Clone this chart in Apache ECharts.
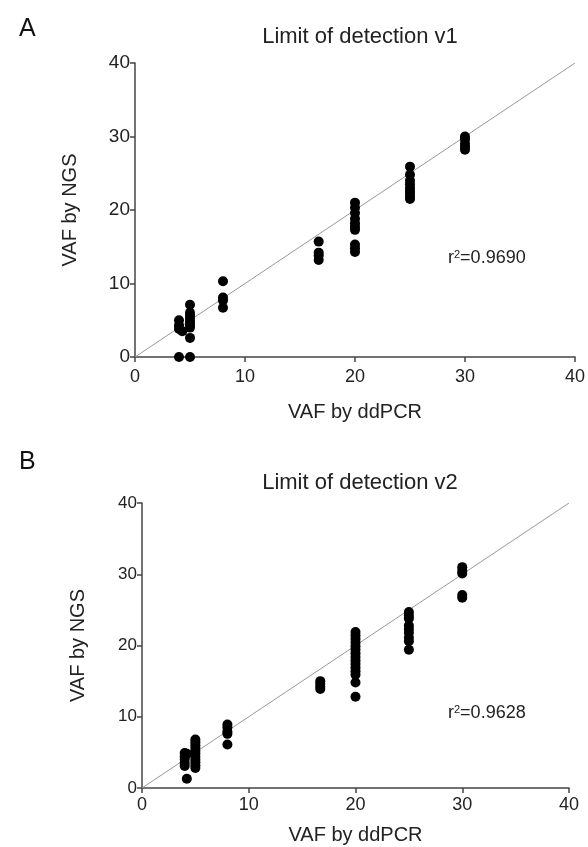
<!DOCTYPE html>
<html>
<head>
<meta charset="utf-8">
<script src="https://cdn.jsdelivr.net/npm/echarts@6/dist/echarts.min.js"></script>
<style>
html,body{margin:0;padding:0;background:#fff;}
#chart{width:588px;height:847px;}
</style>
</head>
<body>
<div id="chart"></div>
<script>
// ---- Data ----
var axisTicks = [0, 10, 20, 30, 40];
var identityLine = [[0, 0], [40, 40]];

// Panel A: Limit of detection v1
var v1Ddpcr = [4, 4, 4, 4.3, 4,
  5, 5, 5, 5, 5, 5, 5, 5, 5,
  8, 8, 8, 8,
  16.7, 16.7, 16.7, 16.7,
  20, 20, 20, 20, 20, 20, 20, 20, 20, 20,
  25, 25, 25, 25, 25, 25, 25, 25, 25,
  30, 30, 30, 30, 30];
var v1Ngs = [5.0, 4.3, 3.8, 3.5, 0,
  7.1, 6.0, 5.6, 5.2, 4.8, 4.4, 4.0, 2.6, 0,
  10.3, 8.1, 7.7, 6.7,
  15.7, 14.2, 13.8, 13.2,
  21.0, 20.3, 19.6, 18.8, 18.2, 17.7, 17.3, 15.3, 14.8, 14.3,
  25.9, 24.8, 24.0, 23.5, 23.0, 22.6, 22.2, 21.8, 21.5,
  30.0, 29.6, 29.0, 28.6, 28.2];

// Panel B: Limit of detection v2
var v2Ddpcr = [4, 4, 4, 4, 4, 4.2, 4.2,
  5, 5, 5, 5, 5, 5, 5, 5, 5, 5, 5,
  8, 8, 8, 8, 8,
  16.7, 16.7, 16.7, 16.7,
  20, 20, 20, 20, 20, 20, 20, 20, 20, 20, 20, 20, 20, 20, 20,
  25, 25, 25, 25, 25, 25, 25, 25, 25,
  30, 30, 30, 30, 30];
var v2Ngs = [4.9, 4.4, 4.0, 3.5, 3.1, 4.8, 1.3,
  6.8, 6.4, 6.0, 5.6, 5.2, 4.8, 4.4, 4.0, 3.6, 3.2, 2.8,
  8.9, 8.5, 7.9, 7.6, 6.1,
  15.0, 14.6, 14.2, 13.9,
  21.9, 21.4, 20.9, 20.4, 19.9, 19.4, 18.9, 18.4, 17.9, 17.4, 16.9, 16.4, 15.9, 14.8, 12.8,
  24.7, 24.2, 23.8, 22.8, 22.3, 21.8, 21.1, 20.6, 19.4,
  31.0, 30.5, 30.1, 27.1, 26.7];

var titles = ['Limit of detection v1', 'Limit of detection v2'];
var r2Values = ['0.9690', '0.9628'];
var panelLetters = ['A', 'B'];

function zip(a, b) { return a.map(function (v, i) { return [v, b[i]]; }); }

var FONT = '"Liberation Sans", Arial, sans-serif';
var TXT = '#222';
var AXC = '#444';

function xAxisCfg(idx, gap, fs, margin) {
  return {
    gridIndex: idx, type: 'value', min: axisTicks[0], max: axisTicks[axisTicks.length - 1], interval: 10,
    name: 'VAF by ddPCR', nameLocation: 'middle', nameGap: gap,
    nameTextStyle: { fontFamily: FONT, fontSize: 20, color: TXT },
    axisLine: { show: true, onZero: false, lineStyle: { color: AXC, width: 1.5 } },
    axisTick: { show: true, inside: false, length: 5, lineStyle: { color: AXC, width: 1.5 } },
    axisLabel: { fontFamily: FONT, fontSize: fs, color: TXT, margin: margin },
    splitLine: { show: false }
  };
}
function yAxisCfg(idx, gap, fs) {
  return {
    gridIndex: idx, type: 'value', min: axisTicks[0], max: axisTicks[axisTicks.length - 1], interval: 10,
    name: 'VAF by NGS', nameLocation: 'middle', nameGap: gap,
    nameTextStyle: { fontFamily: FONT, fontSize: 20, color: TXT },
    axisLine: { show: true, onZero: false, lineStyle: { color: AXC, width: 1.5 } },
    axisTick: { show: true, inside: false, length: 5, lineStyle: { color: AXC, width: 1.5 } },
    axisLabel: { fontFamily: FONT, fontSize: fs, color: TXT, margin: 5 },
    splitLine: { show: false }
  };
}

var chart = echarts.init(document.getElementById('chart'), null, { renderer: 'canvas' });
var option = {
  backgroundColor: '#fff',
  animation: false,
  title: [
    { text: titles[0], left: 355, top: 21, textAlign: 'center',
      textStyle: { fontFamily: FONT, fontSize: 22, fontWeight: 'normal', color: TXT } },
    { text: titles[1], left: 355, top: 467, textAlign: 'center',
      textStyle: { fontFamily: FONT, fontSize: 22, fontWeight: 'normal', color: TXT } },
    { text: panelLetters[0], left: 14, top: 12,
      textStyle: { fontFamily: FONT, fontSize: 25, fontWeight: 'normal', color: '#111' } },
    { text: panelLetters[1], left: 14, top: 445,
      textStyle: { fontFamily: FONT, fontSize: 25, fontWeight: 'normal', color: '#111' } }
  ],
  grid: [
    { left: 135, top: 63, width: 442, height: 294 },
    { left: 142, top: 503, width: 427, height: 285 }
  ],
  xAxis: [xAxisCfg(0, 45, 18, 11), xAxisCfg(1, 37, 18, 8)],
  yAxis: [yAxisCfg(0, 55, 19), yAxisCfg(1, 54, 17)],
  series: [
    { type: 'line', xAxisIndex: 0, yAxisIndex: 0, data: identityLine, showSymbol: false, silent: true,
      lineStyle: { color: '#999', width: 1 }, z: 1 },
    { type: 'scatter', xAxisIndex: 0, yAxisIndex: 0, data: zip(v1Ddpcr, v1Ngs), symbolSize: 10,
      itemStyle: { color: '#000', opacity: 1 }, z: 2 },
    { type: 'line', xAxisIndex: 1, yAxisIndex: 1, data: identityLine, showSymbol: false, silent: true,
      lineStyle: { color: '#999', width: 1 }, z: 1 },
    { type: 'scatter', xAxisIndex: 1, yAxisIndex: 1, data: zip(v2Ddpcr, v2Ngs), symbolSize: 10,
      itemStyle: { color: '#000', opacity: 1 }, z: 2 }
  ],
  graphic: [
    { type: 'text', left: 448, top: 249,
      style: { text: 'r{sup|2}=' + r2Values[0], fontFamily: FONT, fontSize: 18, fill: TXT,
        rich: { sup: { fontFamily: FONT, fontSize: 11, verticalAlign: 'top', padding: [0, 0, 8, 0], fill: TXT } } } },
    { type: 'text', left: 448, top: 704,
      style: { text: 'r{sup|2}=' + r2Values[1], fontFamily: FONT, fontSize: 18, fill: TXT,
        rich: { sup: { fontFamily: FONT, fontSize: 11, verticalAlign: 'top', padding: [0, 0, 8, 0], fill: TXT } } } }
  ]
};
chart.setOption(option);
</script>
</body>
</html>
